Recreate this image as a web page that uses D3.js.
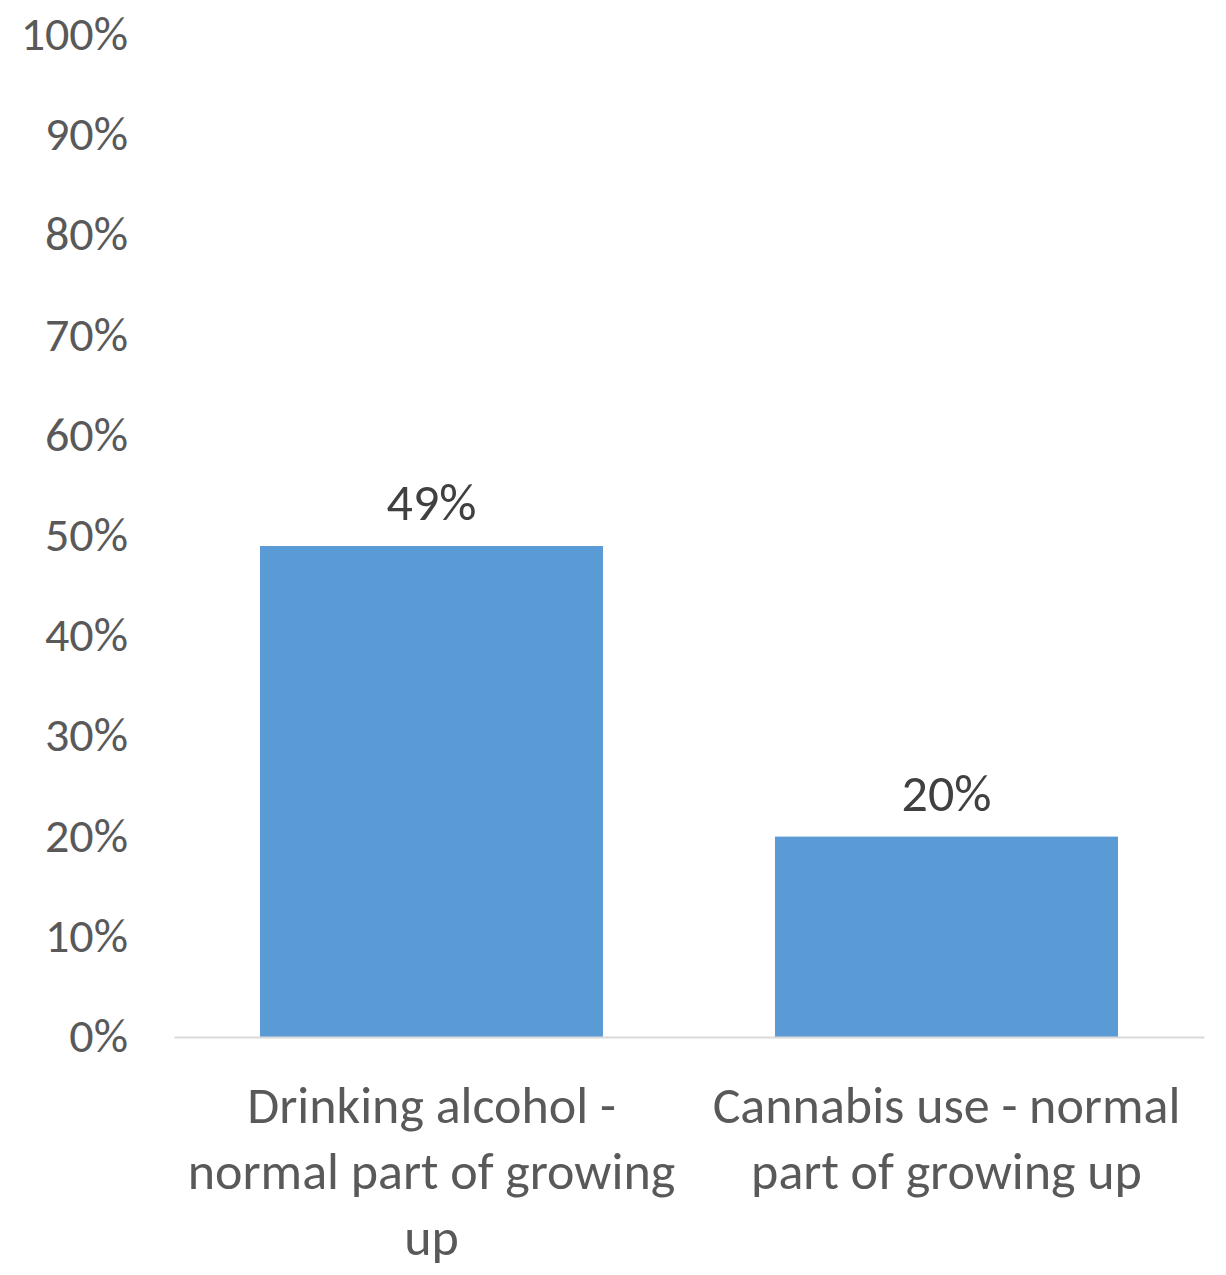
<!DOCTYPE html>
<html>
<head>
<meta charset="utf-8">
<script src="https://cdn.jsdelivr.net/npm/d3@7"></script>
<style>
  html, body { margin: 0; padding: 0; background: #fff; }
  svg { display: block; }
  text { font-family: Carlito, Calibri, Lato, "Open Sans", sans-serif; }
</style>
</head>
<body>
<svg id="chart" width="1226" height="1275"></svg>
<script>
const categories = ["Drinking alcohol - normal part of growing up", "Cannabis use - normal part of growing up"];
const categoryLines = [["Drinking alcohol -", "normal part of growing", "up"], ["Cannabis use - normal", "part of growing up"]];
const values = [0.49, 0.20];
const valueLabels = ["49%", "20%"];
const yTicks = [0, 0.1, 0.2, 0.3, 0.4, 0.5, 0.6, 0.7, 0.8, 0.9, 1.0];

(function () {
const svg = d3.select("#chart");
const mLeft = 174, mRight = 1204, mTop = 35, mBottom = 1037;

const x = d3.scaleBand().domain(categories).range([mLeft, mRight]).paddingInner(0.334).paddingOuter(0.167);
const y = d3.scaleLinear().domain([0, 1]).range([mBottom, mTop]);

// y axis labels
const yAxis = d3.axisLeft(y).tickValues(yTicks).tickFormat(d3.format(".0%")).tickSize(0).tickPadding(0);
const gy = svg.append("g").attr("transform", "translate(128,0)").call(yAxis);
gy.select(".domain").remove();
gy.selectAll("text").attr("fill", "#595959").style("font-size", "48px").attr("dy", "0.3em");

// bars
svg.append("g").selectAll("rect").data(categories).join("rect")
  .attr("x", d => x(d))
  .attr("width", x.bandwidth())
  .attr("y", (d, i) => y(values[i]))
  .attr("height", (d, i) => y(0) - y(values[i]))
  .attr("fill", "#5B9BD5");

// baseline
const xAxis = d3.axisBottom(x).tickSize(0).tickFormat("");
const gx = svg.append("g").attr("transform", `translate(0,${mBottom})`).call(xAxis);
gx.select(".domain").attr("stroke", "#d9d9d9").attr("stroke-width", 2);

// category labels
categories.forEach((c, i) => {
  const cx = x(c) + x.bandwidth() / 2;
  const t = svg.append("text")
    .attr("x", cx)
    .attr("y", 1106)
    .attr("text-anchor", "middle")
    .attr("fill", "#595959")
    .style("font-size", "52px");
  categoryLines[i].forEach((line, j) => {
    t.append("tspan").attr("x", cx).attr("y", 1106 + j * 66).attr("dy", "0.33em").text(line);
  });
});

// data labels
svg.append("g").selectAll("text").data(categories).join("text")
  .attr("x", d => x(d) + x.bandwidth() / 2)
  .attr("y", (d, i) => y(values[i]) - 43)
  .attr("dy", "0.33em")
  .attr("text-anchor", "middle")
  .attr("fill", "#404040")
  .style("font-size", "52px")
  .text((d, i) => valueLabels[i]);
})();
</script>
</body>
</html>
